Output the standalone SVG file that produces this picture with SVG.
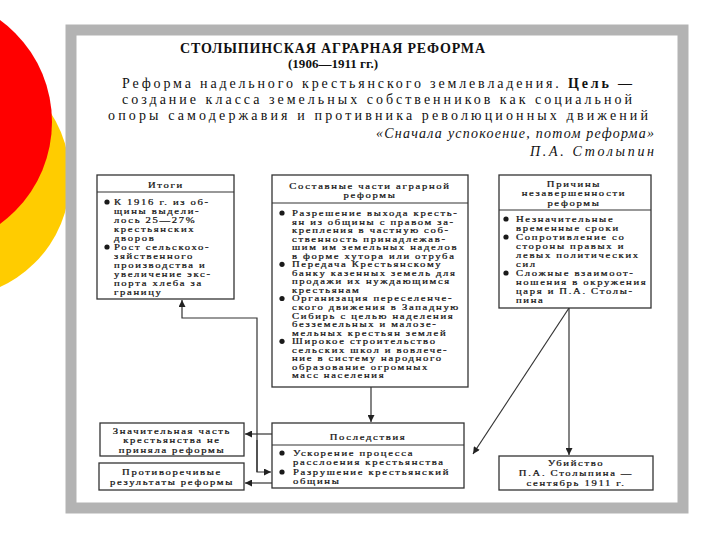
<svg xmlns="http://www.w3.org/2000/svg" width="720" height="540" viewBox="0 0 720 540">
<style>
.bg{fill:#fff}
.frame{fill:#fff;stroke:#b3b3b3;stroke-width:11}
.box{fill:#fff;stroke:#333;stroke-width:1.3}
.div{stroke:#333;stroke-width:1.1}
.t{font-family:"Liberation Serif","DejaVu Serif",serif;font-size:7.6px;fill:#111;stroke:#111;stroke-width:0.2px;letter-spacing:1.2px}
.c{text-anchor:middle}
.h{font-family:"Liberation Serif","DejaVu Serif",serif;fill:#111}
.bul{fill:#1a1a1a}
.con{stroke:#333;stroke-width:1.2;fill:none}
</style>
<defs>
<marker id="ah" viewBox="0 0 10 10" refX="10" refY="5" markerWidth="8" markerHeight="7" orient="auto" markerUnits="userSpaceOnUse">
<path d="M0,0 L10,5 L0,10 z" fill="#222"/>
</marker>
</defs>
<rect class="bg" x="0" y="0" width="720" height="540"/>
<g id="decor">
<circle cx="-50" cy="178" r="120" fill="#ffcc00"/>
<circle cx="-74" cy="122" r="126" fill="#ff0000"/>
</g>
<rect class="frame" x="71" y="30" width="612" height="478"/>

<g id="header">
<text class="h" x="180" y="53" font-size="14" font-weight="bold" textLength="305" lengthAdjust="spacing">СТОЛЫПИНСКАЯ АГРАРНАЯ РЕФОРМА</text>
<text class="h" x="288" y="68" font-size="13" font-weight="bold" textLength="90" lengthAdjust="spacing">(1906—1911 гг.)</text>
<text class="h" x="122" y="88" font-size="14" textLength="510" lengthAdjust="spacing">Реформа надельного крестьянского землевладения. <tspan font-weight="bold">Цель —</tspan></text>
<text class="h" x="122" y="104" font-size="14" textLength="510" lengthAdjust="spacing">создание класса земельных собственников как социальной</text>
<text class="h" x="108" y="120" font-size="14" textLength="540" lengthAdjust="spacing">опоры самодержавия и противника революционных движений</text>
<text class="h" x="376" y="138" font-size="14" font-style="italic" textLength="278" lengthAdjust="spacing">«Сначала успокоение, потом реформа»</text>
<text class="h" x="530" y="156" font-size="14" font-style="italic" textLength="124" lengthAdjust="spacing">П.А. Столыпин</text>
</g>

<g id="connectors">
<line class="con" x1="371" y1="387" x2="371" y2="422" marker-end="url(#ah)"/>
<line class="con" x1="569" y1="308" x2="569" y2="455" marker-end="url(#ah)"/>
<line class="con" x1="569" y1="308" x2="473" y2="454" marker-end="url(#ah)"/>
<line class="con" x1="272" y1="434" x2="245" y2="434" marker-end="url(#ah)"/>
<line class="con" x1="272" y1="483" x2="245" y2="483" marker-end="url(#ah)"/>
<path class="con" d="M257,440 V472 H271" marker-end="url(#ah)"/>
<path class="con" d="M257,472 V318 H182 V300" marker-end="url(#ah)"/>
</g>

<g id="itogi">
<rect class="box" x="97" y="175" width="137" height="124"/>
<line class="div" x1="97" y1="192" x2="234" y2="192"/>
<circle class="bul" cx="107" cy="202" r="2.6"/>
<circle class="bul" cx="107" cy="247" r="2.6"/>
<g transform="translate(114,0) scale(1.4,1)">
<text class="t c" x="37.1" y="188">Итоги</text>
<text class="t" x="0" y="205">К 1916 г. из об-</text>
<text class="t" x="0" y="214">щины выдели-</text>
<text class="t" x="0" y="223">лось 25—27%</text>
<text class="t" x="0" y="232">крестьянских</text>
<text class="t" x="0" y="241">дворов</text>
<text class="t" x="0" y="250">Рост сельскохо-</text>
<text class="t" x="0" y="259">зяйственного</text>
<text class="t" x="0" y="268">производства и</text>
<text class="t" x="0" y="277">увеличение экс-</text>
<text class="t" x="0" y="286">порта хлеба за</text>
<text class="t" x="0" y="295">границу</text>
</g>
</g>

<g id="sostav">
<rect class="box" x="272" y="175" width="196" height="212"/>
<line class="div" x1="272" y1="203" x2="468" y2="203"/>
<circle class="bul" cx="282" cy="213" r="2.6"/>
<circle class="bul" cx="282" cy="264.3" r="2.6"/>
<circle class="bul" cx="282" cy="298.5" r="2.6"/>
<circle class="bul" cx="282" cy="341.3" r="2.6"/>
<g transform="translate(292,0) scale(1.4,1)">
<text class="t c" x="55.7" y="189">Составные части аграрной</text>
<text class="t c" x="55.7" y="198">реформы</text>
<text class="t" x="0" y="216">Разрешение выхода кресть-</text>
<text class="t" x="0" y="224.6">ян из общины с правом за-</text>
<text class="t" x="0" y="233.1">крепления в частную соб-</text>
<text class="t" x="0" y="241.7">ственность принадлежав-</text>
<text class="t" x="0" y="250.2">шим им земельных наделов</text>
<text class="t" x="0" y="258.8">в форме хутора или отруба</text>
<text class="t" x="0" y="267.3">Передача Крестьянскому</text>
<text class="t" x="0" y="275.9">банку казенных земель для</text>
<text class="t" x="0" y="284.4">продажи их нуждающимся</text>
<text class="t" x="0" y="293">крестьянам</text>
<text class="t" x="0" y="301.5">Организация переселенче-</text>
<text class="t" x="0" y="310.1">ского движения в Западную</text>
<text class="t" x="0" y="318.6">Сибирь с целью наделения</text>
<text class="t" x="0" y="327.2">безземельных и малозе-</text>
<text class="t" x="0" y="335.7">мельных крестьян землей</text>
<text class="t" x="0" y="344.3">Широкое строительство</text>
<text class="t" x="0" y="352.8">сельских школ и вовлече-</text>
<text class="t" x="0" y="361.4">ние в систему народного</text>
<text class="t" x="0" y="369.9">образование огромных</text>
<text class="t" x="0" y="378.5">масс населения</text>
</g>
</g>

<g id="prichiny">
<rect class="box" x="499" y="175" width="152" height="133"/>
<line class="div" x1="499" y1="210" x2="651" y2="210"/>
<circle class="bul" cx="506" cy="219" r="2.6"/>
<circle class="bul" cx="506" cy="237" r="2.6"/>
<circle class="bul" cx="506" cy="273" r="2.6"/>
<g transform="translate(516,0) scale(1.4,1)">
<text class="t c" x="41.4" y="187">Причины</text>
<text class="t c" x="41.4" y="196.5">незавершенности</text>
<text class="t c" x="41.4" y="206">реформы</text>
<text class="t" x="0" y="222">Незначительные</text>
<text class="t" x="0" y="231">временные сроки</text>
<text class="t" x="0" y="240">Сопротивление со</text>
<text class="t" x="0" y="249">стороны правых и</text>
<text class="t" x="0" y="258">левых политических</text>
<text class="t" x="0" y="267">сил</text>
<text class="t" x="0" y="276">Сложные взаимоот-</text>
<text class="t" x="0" y="285">ношения в окружения</text>
<text class="t" x="0" y="294">царя и П.А. Столы-</text>
<text class="t" x="0" y="303">пина</text>
</g>
</g>

<g id="znach">
<rect class="box" x="100" y="423" width="144" height="33"/>
<g transform="translate(172,0) scale(1.4,1)">
<text class="t c" x="0" y="434">Значительная часть</text>
<text class="t c" x="0" y="443.5">крестьянства не</text>
<text class="t c" x="0" y="453">приняла реформы</text>
</g>
</g>

<g id="protiv">
<rect class="box" x="99" y="463" width="145" height="27"/>
<g transform="translate(172,0) scale(1.4,1)">
<text class="t c" x="0" y="475">Противоречивые</text>
<text class="t c" x="0" y="485">результаты реформы</text>
</g>
</g>

<g id="posled">
<rect class="box" x="272" y="423" width="192" height="65"/>
<line class="div" x1="272" y1="445" x2="464" y2="445"/>
<circle class="bul" cx="282" cy="453" r="2.6"/>
<circle class="bul" cx="282" cy="472" r="2.6"/>
<g transform="translate(293,0) scale(1.4,1)">
<text class="t c" x="53.6" y="440">Последствия</text>
<text class="t" x="0" y="456">Ускорение процесса</text>
<text class="t" x="0" y="465">расслоения крестьянства</text>
<text class="t" x="0" y="475">Разрушение крестьянский</text>
<text class="t" x="0" y="484">общины</text>
</g>
</g>

<g id="ubiystvo">
<rect class="box" x="499" y="456" width="154" height="34"/>
<g transform="translate(576,0) scale(1.4,1)">
<text class="t c" x="0" y="466">Убийство</text>
<text class="t c" x="0" y="476">П.А. Столыпина —</text>
<text class="t c" x="0" y="486">сентябрь 1911 г.</text>
</g>
</g>
</svg>
